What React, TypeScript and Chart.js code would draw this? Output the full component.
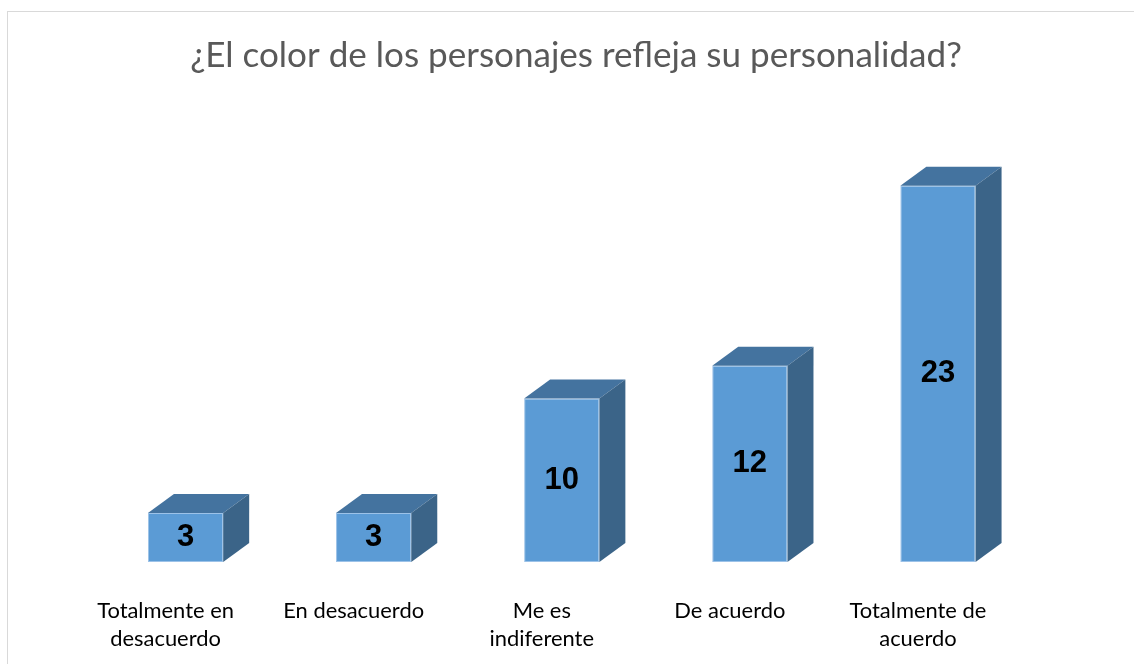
import React, { useEffect, useRef } from "react";
import { Chart, registerables } from "chart.js";

Chart.register(...registerables);

const TITLE = "¿El color de los personajes refleja su personalidad?";
const categories: string[][] = [
  ["Totalmente en", "desacuerdo"],
  ["En desacuerdo"],
  ["Me es", "indiferente"],
  ["De acuerdo"],
  ["Totalmente de", "acuerdo"],
];
const values: number[] = [3, 3, 10, 12, 23];
const yMax = 25;

const FRONT = "#5B9BD5";
const TOP = "#44739F";
const SIDE = "#3B6488";
const EDGE = "#9CC2E8";
const DX = 26;
const DY = 19;

const SANS = "Lato, 'Open Sans', sans-serif";

function fitSize(text: string, family: string, weight: string, target: number): number {
  const c = document.createElement("canvas");
  const ctx = c.getContext("2d")!;
  ctx.font = `${weight} 100px ${family}`;
  const w = ctx.measureText(text).width;
  return (100 * target) / w;
}

const bar3d = {
  id: "bar3d",
  afterDatasetsDraw(chart: any) {
    const ctx = chart.ctx as CanvasRenderingContext2D;
    const meta = chart.getDatasetMeta(0);
    const labelFont = chart.options.plugins.bar3d.font;
    meta.data.forEach((el: any, i: number) => {
      const { x, y, base, width } = el.getProps(["x", "y", "base", "width"], true);
      const l = x - width / 2;
      const r = x + width / 2;
      ctx.save();
      // top face
      ctx.beginPath();
      ctx.moveTo(l, y);
      ctx.lineTo(l + DX, y - DY);
      ctx.lineTo(r + DX, y - DY);
      ctx.lineTo(r, y);
      ctx.closePath();
      ctx.fillStyle = TOP;
      ctx.fill();
      // side face
      ctx.beginPath();
      ctx.moveTo(r, y);
      ctx.lineTo(r + DX, y - DY);
      ctx.lineTo(r + DX, base - DY);
      ctx.lineTo(r, base);
      ctx.closePath();
      ctx.fillStyle = SIDE;
      ctx.fill();
      // value label
      ctx.fillStyle = "#000000";
      ctx.font = labelFont;
      ctx.textAlign = "center";
      ctx.textBaseline = "middle";
      ctx.fillText(String(values[i]), x, (y + base) / 2);
      ctx.restore();
    });
  },
};

export default function App() {
  const ref = useRef<HTMLCanvasElement | null>(null);

  useEffect(() => {
    if (!ref.current) return;
    const titleSize = fitSize(TITLE, SANS, "normal", 772);
    const tickSize = fitSize("En desacuerdo", SANS, "normal", 141);
    const chart = new Chart(ref.current, {
      type: "bar",
      data: {
        labels: categories,
        datasets: [
          {
            data: values,
            backgroundColor: FRONT,
            borderColor: EDGE,
            borderWidth: 1,
            borderSkipped: false,
            barPercentage: 0.4,
            categoryPercentage: 1,
          },
        ],
      },
      plugins: [bar3d],
      options: {
        animation: false,
        responsive: false,
        maintainAspectRatio: false,
        layout: { padding: 0 },
        plugins: {
          legend: { display: false },
          tooltip: { enabled: false },
          title: {
            display: true,
            text: TITLE,
            color: "#595959",
            font: { family: SANS, size: titleSize, weight: "normal", lineHeight: 1.2 },
            padding: { top: 35, bottom: 76 },
          },
          // @ts-ignore
          bar3d: { font: `bold 31px 'Liberation Sans', Arial, sans-serif` },
        },
        scales: {
          x: {
            grid: { display: false },
            border: { display: false },
            ticks: {
              color: "#000000",
              padding: 27,
              labelOffset: -20,
              maxRotation: 0,
              autoSkip: false,
              font: { family: SANS, size: tickSize, lineHeight: 28 / tickSize },
            },
            afterFit: (s: any) => {
              s.height = 102;
            },
          },
          y: {
            position: "left",
            min: 0,
            max: yMax,
            grid: { display: false },
            border: { display: false },
            ticks: { display: false },
            afterFit: (s: any) => {
              s.width = 91.5;
            },
          },
          y2: {
            position: "right",
            min: 0,
            max: 1,
            grid: { display: false },
            border: { display: false },
            ticks: { display: false },
            afterFit: (s: any) => {
              s.width = 120;
            },
          },
        },
      },
    });
    return () => chart.destroy();
  }, []);

  return (
    <div
      style={{
        position: "absolute",
        left: 0,
        top: 0,
        width: 1134,
        height: 664,
        overflow: "hidden",
        background: "#ffffff",
      }}
    >
      <div
        style={{
          position: "absolute",
          left: 7,
          top: 11,
          width: 1138,
          height: 700,
          border: "1px solid #d9d9d9",
          boxSizing: "border-box",
        }}
      />
      <canvas
        ref={ref}
        width={1152}
        height={664}
        style={{ position: "absolute", left: 0, top: 0, width: 1152, height: 664 }}
      />
    </div>
  );
}
